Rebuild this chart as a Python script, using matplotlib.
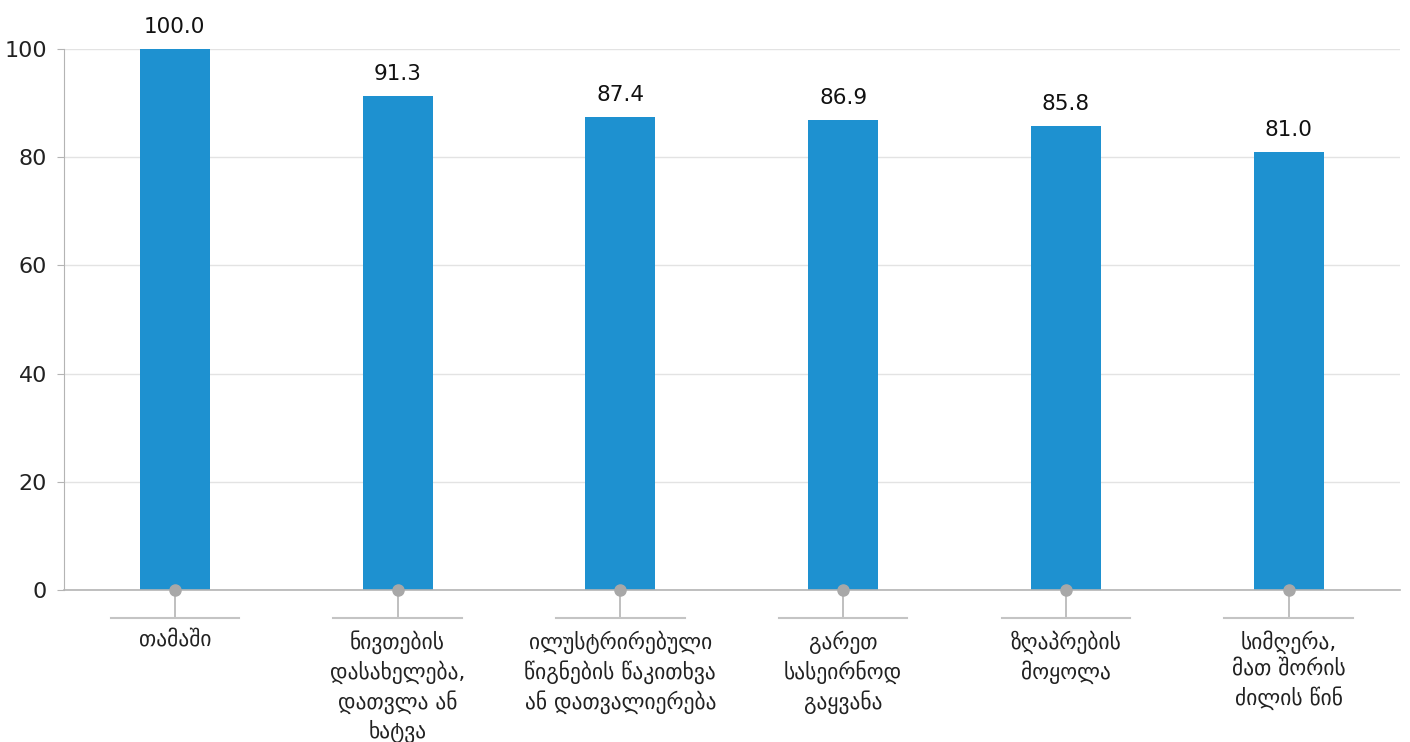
import numpy as np
import matplotlib.pyplot as plt
import matplotlib.transforms as mtransforms

categories = [
    'თამაში',
    'ნივთების\nდასახელება,\nდათვლა ან\nხატვა',
    'ილუსტრირებული\nწიგნების წაკითხვა\nან დათვალიერება',
    'გარეთ\nსასეირნოდ\nგაყვანა',
    'ზღაპრების\nმოყოლა',
    'სიმღერა,\nმათ შორის\nძილის წინ',
]
values = [100.0, 91.3, 87.4, 86.9, 85.8, 81.0]
y_ticks = [0, 20, 40, 60, 80, 100]

bar_color = '#1e91d0'
axis_gray = '#b4b4b4'

plt.rcParams['font.family'] = ['DejaVu Sans']

fig = plt.figure(figsize=(14.1, 7.42), dpi=100)
ax = fig.add_axes([63.5 / 1410, 1 - 590 / 742, 1336.5 / 1410, 541 / 742])

x = np.arange(len(categories))
ax.bar(x, values, width=0.315, color=bar_color, zorder=2)

for xi, v in zip(x, values):
    ax.text(xi, v + 2.2, f'{v:.1f}', ha='center', va='bottom', fontsize=15.5,
            color='#111111', clip_on=False)

# dots on the baseline
ax.plot(x, np.zeros(len(x)), 'o', color='#a8a8a8', markersize=8, zorder=4, clip_on=False)

ax.set_xlim(-0.5, len(categories) - 0.5)
ax.set_ylim(0, 100)
ax.set_yticks(y_ticks)
ax.tick_params(axis='y', labelsize=16, length=5, color=axis_gray, labelcolor='#222222', pad=7)
ax.yaxis.grid(True, color='#e3e3e3', linewidth=1, zorder=0)
ax.set_axisbelow(True)

ax.set_xticks(x)
ax.set_xticklabels(categories, fontsize=15.5, color='#222222', linespacing=1.35)
ax.tick_params(axis='x', length=20, width=1.2, color=axis_gray, pad=9)

for s in ['top', 'right']:
    ax.spines[s].set_visible(False)
ax.spines['left'].set_color(axis_gray)
ax.spines['bottom'].set_color(axis_gray)
ax.spines['bottom'].set_linewidth(1.2)

# horizontal bracket under each tick
trans = mtransforms.blended_transform_factory(ax.transData, ax.transAxes)
yb = -28 / 541
for xi in x:
    ax.plot([xi - 0.288, xi + 0.288], [yb, yb], color='#c4c4c4', linewidth=1.5,
            transform=trans, clip_on=False)

fig.savefig('out.png', dpi=100)
